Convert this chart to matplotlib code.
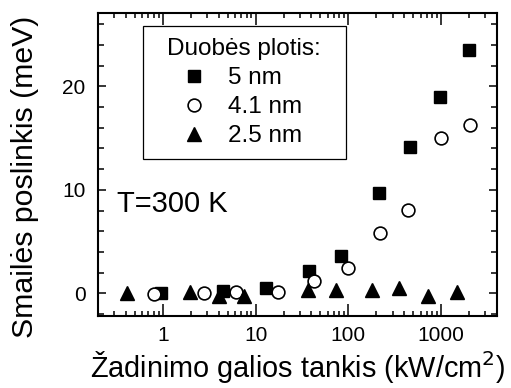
import matplotlib
matplotlib.use("Agg")
import matplotlib.pyplot as plt
from matplotlib.ticker import LogLocator, MultipleLocator, NullFormatter, FixedLocator, FixedFormatter

plt.rcParams['font.family'] = ['Liberation Sans', 'DejaVu Sans']

# Excitation power density (kW/cm^2) and peak shift (meV) per well width
x_5nm = [0.96, 4.5, 13.1, 38, 83, 215, 458, 984, 1980]
y_5nm = [0.0, 0.26, 0.48, 2.18, 3.58, 9.66, 14.1, 19.0, 23.5]

x_41nm = [0.80, 2.8, 6.1, 17.5, 43, 98, 220, 440, 1000, 2060]
y_41nm = [-0.06, 0.03, 0.16, 0.13, 1.15, 2.43, 5.79, 8.06, 15.0, 16.3]

x_25nm = [0.415, 1.98, 4.05, 7.5, 36.7, 73.8, 178, 352, 726, 1484]
y_25nm = [0.03, 0.1, -0.22, -0.22, 0.32, 0.32, 0.32, 0.48, -0.22, 0.16]

series_labels = ["5 nm", "4.1 nm", "2.5 nm"]
legend_title = "Duobės plotis:"
x_ticks = [1, 10, 100, 1000]
x_tick_labels = ["1", "10", "100", "1000"]
y_ticks = [0, 10, 20]

fig = plt.figure(figsize=(5.11, 3.88), dpi=100)
ax = fig.add_axes([0.1918, 0.1856, 0.7808, 0.7809])

ax.plot(x_5nm, y_5nm, ls='none', marker='s', ms=8.9, color='black',
        label=series_labels[0])
ax.plot(x_41nm, y_41nm, ls='none', marker='o', ms=9.2, mfc='white',
        mec='black', mew=1.2, label=series_labels[1])
ax.plot(x_25nm, y_25nm, ls='none', marker='^', ms=10.5, color='black',
        label=series_labels[2])

ax.set_xscale('log')
ax.set_xlim(0.2, 4000)
ax.set_ylim(-2.2, 27.1)

ax.xaxis.set_major_locator(FixedLocator(x_ticks))
ax.xaxis.set_major_formatter(FixedFormatter(x_tick_labels))
ax.xaxis.set_minor_locator(LogLocator(base=10, subs=range(2, 10), numticks=20))
ax.xaxis.set_minor_formatter(NullFormatter())
ax.yaxis.set_major_locator(FixedLocator(y_ticks))
ax.yaxis.set_minor_locator(MultipleLocator(2))

for s in ax.spines.values():
    s.set_linewidth(1.5)

ax.tick_params(axis='both', which='both', direction='in', top=True,
               right=True, width=1.1, labelsize=15)
ax.tick_params(axis='x', which='major', length=8.5, pad=7)
ax.tick_params(axis='x', which='minor', length=3.6)
ax.tick_params(axis='y', which='major', length=6, pad=9)
ax.tick_params(axis='y', which='minor', length=4)

ax.set_xlabel("Žadinimo galios tankis (kW/cm$^2$)", fontsize=20.8, labelpad=3)
ax.set_ylabel("Smailės poslinkis (meV)", fontsize=21.8)
ax.yaxis.set_label_coords(-0.148, 0.46)

ax.text(0.319, 7.9, "T=300 K", fontsize=21, va='baseline', ha='left')

leg = ax.legend(title=legend_title, loc='upper left',
                bbox_to_anchor=(0.112, 0.516, 0.5085, 0.44), mode='expand',
                borderaxespad=0, fontsize=17.5, title_fontsize=17.5,
                frameon=True, fancybox=False, edgecolor='black',
                framealpha=1, borderpad=0.48, labelspacing=0.29,
                handletextpad=-0.23, handlelength=3.27)
leg.get_frame().set_linewidth(0.9)

fig.savefig("out.png", dpi=100)
